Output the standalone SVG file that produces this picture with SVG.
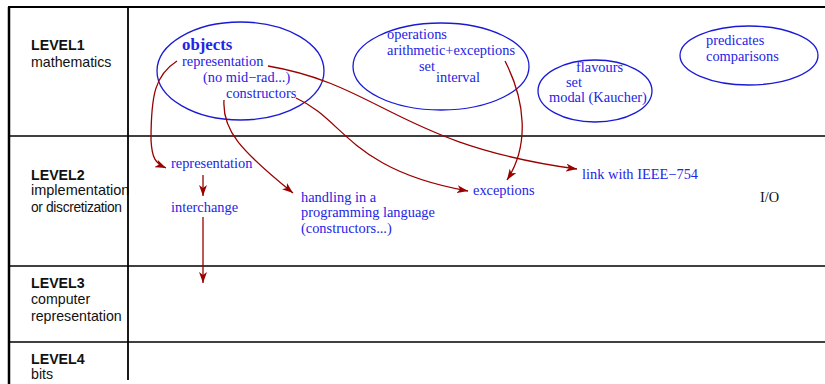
<svg xmlns="http://www.w3.org/2000/svg" width="825" height="384" viewBox="0 0 825 384">
<style>
.lvl{font-family:"Liberation Sans",Arial,sans-serif;font-size:14.2px;fill:#111}
.lvlb{font-weight:bold}
.t{font-family:"Liberation Serif","Times New Roman",serif;font-size:14.4px;fill:#2424e6}
.ob{font-weight:bold;font-size:16.8px}
.ell{fill:none;stroke:#1a1ad6;stroke-width:1.3}
.grid{stroke:#000;fill:none}
.arr{fill:none;stroke:#990000;stroke-width:1.3;marker-end:url(#ah)}
</style>
<defs>
<marker id="ah" markerUnits="userSpaceOnUse" markerWidth="12" markerHeight="8" refX="11" refY="4" orient="auto">
<path d="M0,0 L11,4 L0,8 L3,4 z" fill="#990000"/>
</marker>
</defs>
<rect width="825" height="384" fill="#fff"/>
<g id="level1"><text class="lvl lvlb" x="31" y="50">LEVEL1</text><text class="lvl" x="31" y="67">mathematics</text></g>
<g id="level2"><text class="lvl lvlb" x="31" y="180">LEVEL2</text><text class="lvl" x="31" y="195" style="font-size:14.5px">implementation</text><text class="lvl" x="31" y="212" style="font-size:13.8px" textLength="91" lengthAdjust="spacing">or discretization</text></g>
<g id="level3"><text class="lvl lvlb" x="31" y="288">LEVEL3</text><text class="lvl" x="31" y="304">computer</text><text class="lvl" x="31" y="321">representation</text></g>
<g id="level4"><text class="lvl lvlb" x="31" y="364">LEVEL4</text><text class="lvl" x="31" y="379">bits</text></g>
<g id="grid">
<line class="grid" x1="8" y1="7" x2="825" y2="7" stroke-width="2.2"/>
<line class="grid" x1="9" y1="7" x2="9" y2="384" stroke-width="2.5"/>
<line class="grid" x1="128" y1="7" x2="128" y2="380" stroke-width="1.8"/>
<line class="grid" x1="9" y1="136" x2="825" y2="136" stroke="#555" stroke-width="1.3"/>
<line class="grid" x1="9" y1="266" x2="825" y2="266" stroke-width="1.3"/>
<line class="grid" x1="9" y1="342" x2="825" y2="342" stroke="#666" stroke-width="1.3"/>
</g>
<g id="objects">
<ellipse class="ell" cx="240.5" cy="71" rx="83.5" ry="49"/>
<text class="t ob" x="182" y="50">objects</text>
<text class="t" x="182" y="66">representation</text>
<text class="t" x="203" y="82">(no mid−rad...)</text>
<text class="t" x="226" y="98">constructors</text>
</g>
<g id="operations">
<ellipse class="ell" cx="441" cy="66.5" rx="88" ry="43.5"/>
<text class="t" x="387" y="39">operations</text>
<text class="t" x="387" y="55">arithmetic+exceptions</text>
<text class="t" x="419" y="71">set</text>
<text class="t" x="436" y="82">interval</text>
</g>
<g id="flavours">
<ellipse class="ell" cx="595" cy="91" rx="57" ry="31"/>
<text class="t" x="576" y="72">flavours</text>
<text class="t" x="566" y="87">set</text>
<text class="t" x="549" y="102">modal (Kaucher)</text>
</g>
<g id="predicates">
<ellipse class="ell" cx="749" cy="55.5" rx="69" ry="29.5"/>
<text class="t" x="706" y="45">predicates</text>
<text class="t" x="706" y="61">comparisons</text>
</g>
<g id="l2-representation"><text class="t" x="171" y="168">representation</text></g>
<g id="l2-interchange"><text class="t" x="171" y="212">interchange</text></g>
<g id="l2-handling"><text class="t" x="301" y="202">handling in a</text><text class="t" x="301" y="217">programming language</text><text class="t" x="301" y="233">(constructors...)</text></g>
<g id="l2-exceptions"><text class="t" x="473" y="195">exceptions</text></g>
<g id="l2-ieee"><text class="t" x="582" y="179">link with IEEE−754</text></g>
<g id="l2-io"><text class="t" x="760" y="202" style="fill:#111">I/O</text></g>
<g id="connectors">
<path class="arr" d="M177,61 C155,75 151,95 151,140 C152,158 155,163 166,168"/>
<path class="arr" d="M268,66 C380,85 400,145 577,169"/>
<path class="arr" d="M296,98 C345,120 350,170 468,191"/>
<path class="arr" d="M224,100 C222,130 240,150 293,193"/>
<path class="arr" d="M505,61 C525,100 530,145 507,180"/>
<path class="arr" d="M203,175 L203,196"/>
<path class="arr" d="M203,217 L203,283"/>
</g>
</svg>
